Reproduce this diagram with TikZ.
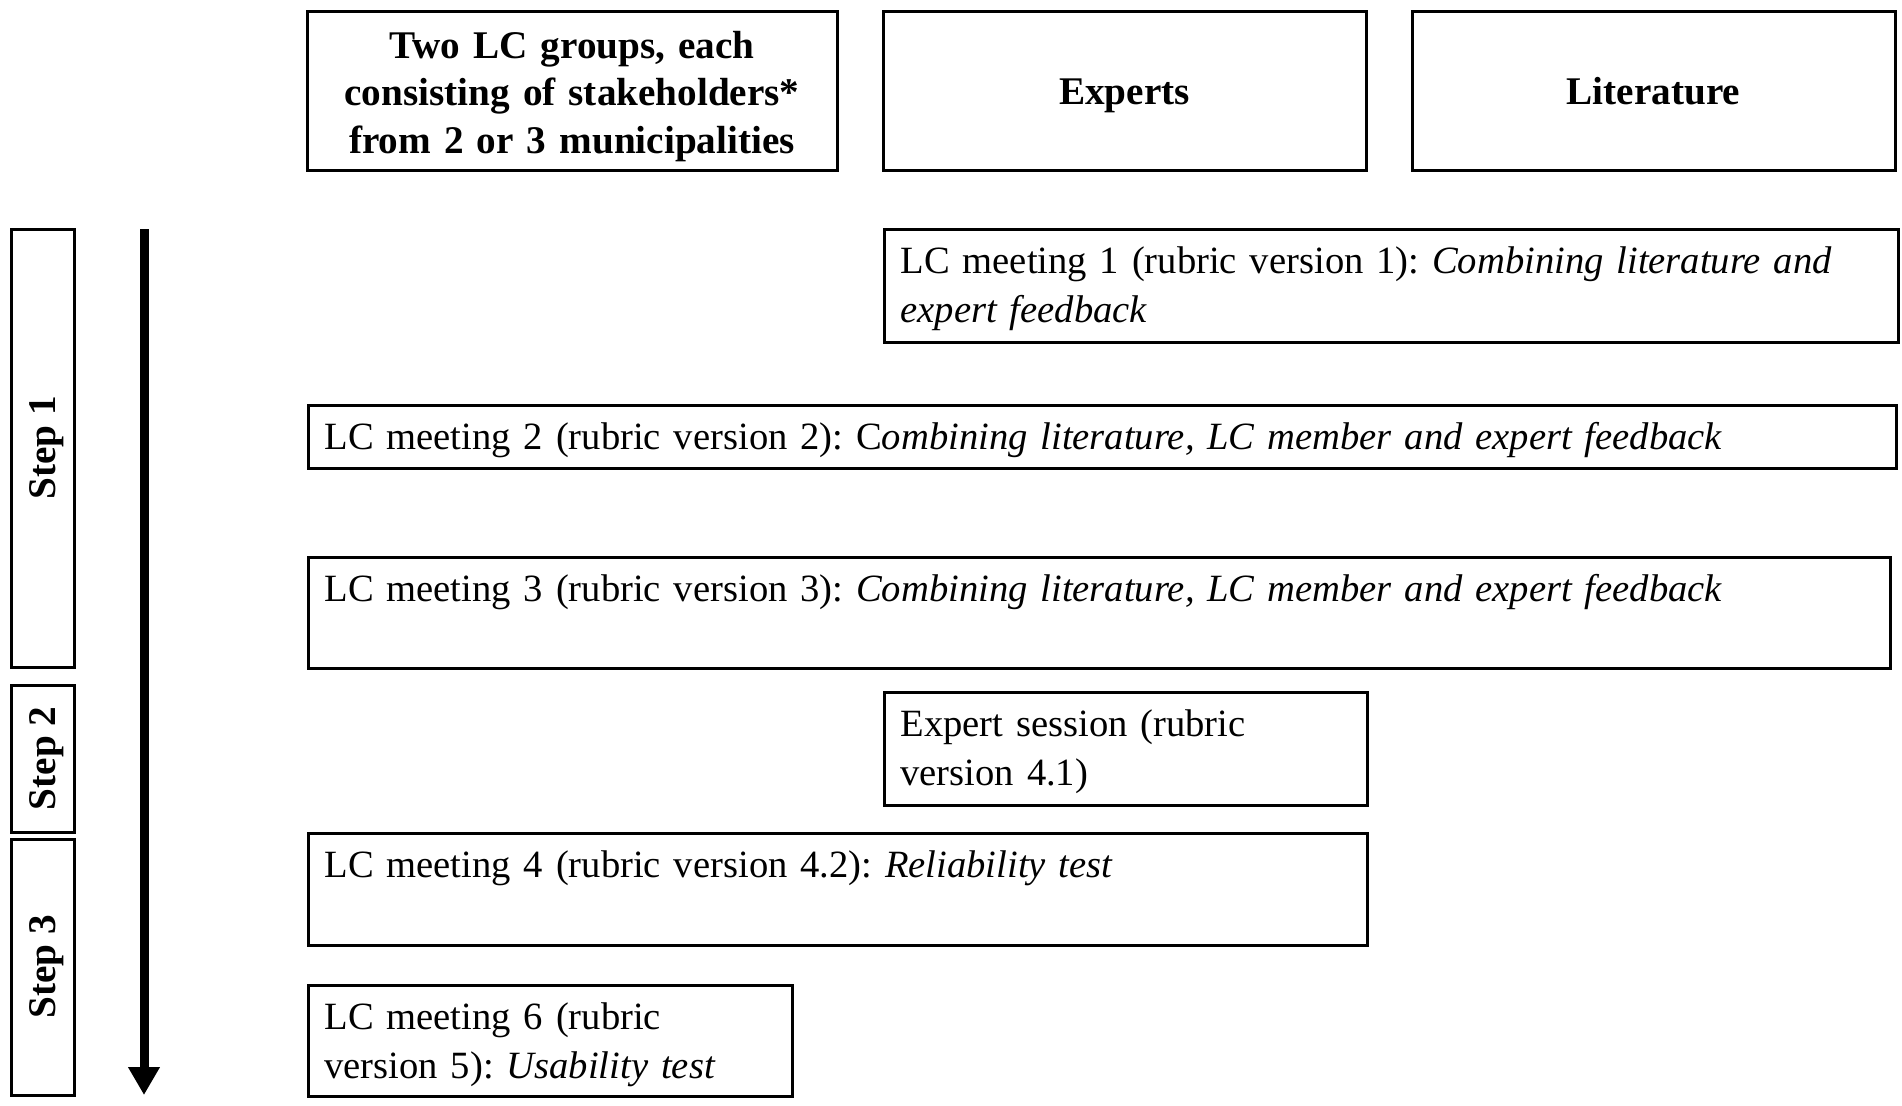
\documentclass[tikz,border=0pt]{standalone}
\usepackage{fontspec}
\setmainfont{Liberation Serif}
\usetikzlibrary{arrows.meta}
\frenchspacing

\begin{document}
\begin{tikzpicture}[
  x=0.5pt, y=-0.5pt,
  font=\fontsize{19.3pt}{24.2pt}\selectfont,
  head/.style={draw, line width=1.5pt, align=center, font=\fontsize{19.6pt}{23.65pt}\selectfont\bfseries,
    minimum height=79.5pt, inner sep=0pt},
  stepbox/.style={draw, line width=1.5pt, rotate=90, font=\fontsize{19.6pt}{23pt}\selectfont\bfseries,
    minimum height=31.5pt, inner sep=0pt, text height=16.6pt, text depth=4.1pt},
  lcbox/.style={draw, line width=1.5pt, anchor=north west, align=left, inner xsep=8pt,
    inner ysep=6.25pt, text height=15.8pt}
]
  \useasboundingbox (0,0) rectangle (1902,1105);

  % sources
  \node[head, text width=265pt, text height=19.5pt, text depth=51.5pt] (groups) at (572,90.5)
    {Two LC groups, each\\ consisting of stakeholders*\\ from 2 or 3 municipalities};
  \node[head, text width=241.5pt, text height=19.3pt, text depth=5pt] (experts) at (1124.5,90.5) {Experts};
  \node[head, text width=241.5pt, text height=19.3pt, text depth=5pt] (lit) at (1653.5,90.5) {Literature};

  % steps
  \node[stepbox, minimum width=219pt] (step1) at (42.5,448) {Step 1};
  \node[stepbox, minimum width=73.5pt] (step2) at (42.5,758.5) {Step 2};
  \node[stepbox, minimum width=128pt] (step3) at (42.5,967) {Step 3};

  \coordinate (tstart) at (144,229);
  \coordinate (tend) at (144,1095);
  \draw[-{Triangle[width=15pt,length=14pt]}, line width=4.5pt] (tstart) -- (tend);

  % meetings
  \node[lcbox, text width=491pt, text depth=28.2pt] (m1) at (883,228)
    {LC meeting 1 (rubric version 1): \textit{Combining literature and}\\ \textit{expert feedback}};
  \node[lcbox, text width=778pt, text depth=3.2pt] (m2) at (307,404)
    {LC meeting 2 (rubric version 2): C\textit{ombining literature, LC member and expert feedback}};
  \node[lcbox, text width=775pt, text depth=27.2pt] (m3) at (307,556)
    {LC meeting 3 (rubric version 3): \textit{Combining literature, LC member and expert feedback}};
  \node[lcbox, text width=225.5pt, text depth=28.2pt] (es) at (883,691)
    {Expert session (rubric\\ version 4.1)};
  \node[lcbox, text width=513.5pt, text depth=27.7pt] (m4) at (307,832)
    {LC meeting 4 (rubric version 4.2): \textit{Reliability test}};
  \node[lcbox, text width=226pt, text depth=27.2pt] (m6) at (307,984)
    {LC meeting 6 (rubric\\ version 5): \textit{Usability test}};
\end{tikzpicture}
\end{document}
